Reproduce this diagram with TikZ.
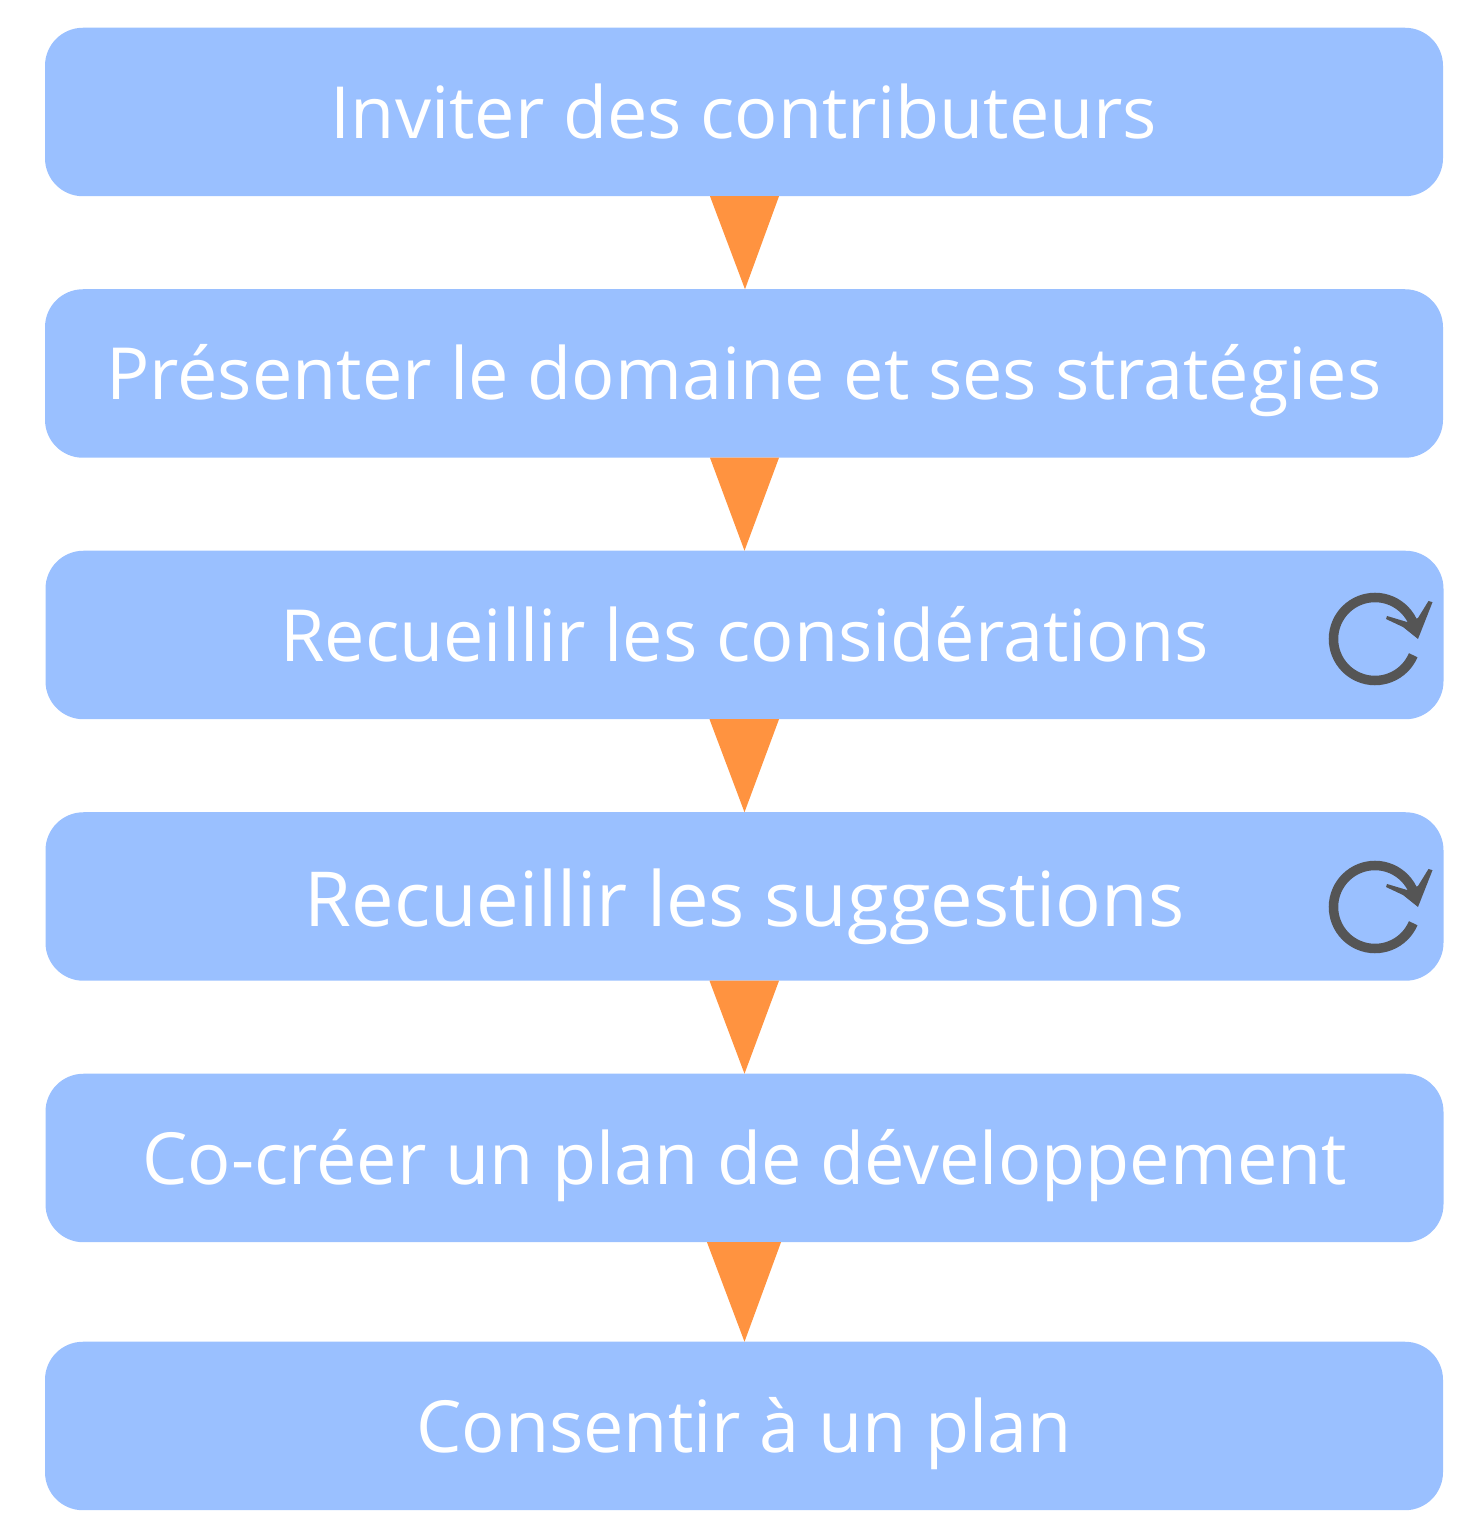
\documentclass[tikz,border=0pt]{standalone}
\usepackage{fontspec}
\setmainfont{Open Sans}
\usetikzlibrary{calc}
\definecolor{stepblue}{HTML}{9AC0FF}
\definecolor{steporange}{HTML}{FF9340}
\definecolor{loopgray}{HTML}{555555}
\tikzset{
  stepbox/.style = {fill = stepblue, rounded corners = 0.38cm, minimum width = 13.98cm, minimum height = 1.685cm, inner sep = 0pt, outer sep = 0pt, text = white, font = \fontsize{20.47pt}{24pt}\selectfont, text height = 0.53cm, text depth = 0cm},
  bigstep/.style = {font = \fontsize{21.6pt}{24pt}\selectfont, text height = 0.60cm},
  reloop/.pic = {
    \draw[loopgray, line width = 0.095cm] (-23:0.415) arc [start angle = -23, end angle = -340, radius = 0.415];
    \fill[loopgray] (0.43, 0.0) -- (0.575, 0.368) -- (0.535, 0.38) -- (0.43, 0.21) -- (0.32, 0.17) -- (0.12, 0.23) -- (0.11, 0.20) -- (0.28, 0.12) -- cycle;
  }
}
\begin{document}
\begin{tikzpicture} [scale = 1]
\useasboundingbox (0.0, 0.0) rectangle (14.8, 15.4);
\node[stepbox] (invite) at (7.44, 14.28){Inviter des contributeurs};
\node[stepbox] (present) at (7.44, 11.665){Présenter le domaine et ses stratégies};
\node[stepbox] (gather) at (7.445, 9.05){Recueillir les considérations};
\node[stepbox, bigstep] (suggest) at (7.445, 6.435){Recueillir les suggestions};
\node[stepbox] (cocreate) at (7.445, 3.82){Co-créer un plan de développement};
\node[stepbox] (consent) at (7.44, 1.14){Consentir à un plan};
\fill[steporange] ($(invite.south) + (-0.34, 0)$) -- ($(invite.south) + (0.35, 0)$) -- ($(present.north) + (0.01, 0)$) -- cycle;
\fill[steporange] ($(present.south) + (-0.34, 0)$) -- ($(present.south) + (0.35, 0)$) -- ($(gather.north) + (0.0, 0)$) -- cycle;
\fill[steporange] ($(gather.south) + (-0.35, 0)$) -- ($(gather.south) + (0.345, 0)$) -- ($(suggest.north) + (0.0, 0)$) -- cycle;
\fill[steporange] ($(suggest.south) + (-0.35, 0)$) -- ($(suggest.south) + (0.345, 0)$) -- ($(cocreate.north) + (0.0, 0)$) -- cycle;
\fill[steporange] ($(cocreate.south) + (-0.375, 0)$) -- ($(cocreate.south) + (0.365, 0)$) -- ($(consent.north) + (0.005, 0)$) -- cycle;
\pic at (13.75, 9.01) {reloop};
\pic at (13.75, 6.33) {reloop};
\end{tikzpicture}
\end{document}
